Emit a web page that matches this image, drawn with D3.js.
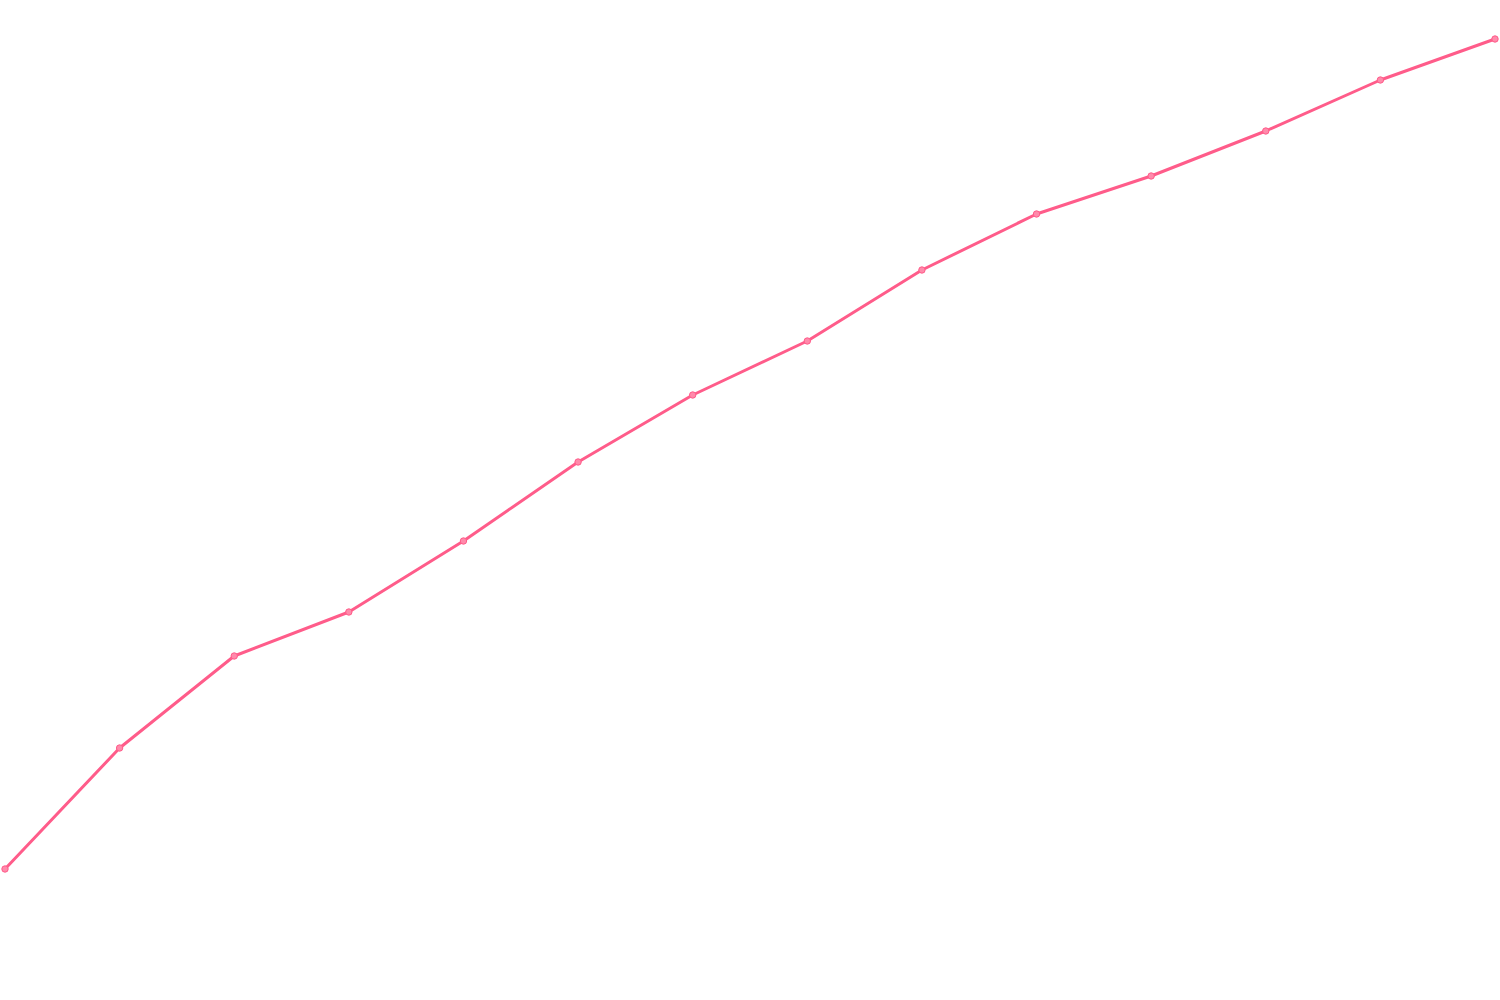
<!DOCTYPE html>
<html>
<head>
<meta charset="utf-8">
<script src="https://cdn.jsdelivr.net/npm/d3@7"></script>
<style>
html,body{margin:0;padding:0;background:#fff;}
svg{display:block;}
</style>
</head>
<body>
<svg id="chart" width="1500" height="1000"></svg>
<script>
const categories = ["1","2","3","4","5","6","7","8","9","10","11","12","13","14"];
const values = [13.1, 25.2, 34.4, 38.8, 45.9, 53.8, 60.5, 65.9, 73.0, 78.6, 82.4, 86.9, 92.0, 96.1];

const svg = d3.select("#chart");
const x = d3.scalePoint().domain(categories).range([5, 1495]);
const y = d3.scaleLinear().domain([0, 100]).range([1000, 0]);

const data = categories.map((c, i) => ({c, v: values[i]}));

svg.append("path")
  .datum(data)
  .attr("fill", "none")
  .attr("stroke", "#ff5c8a")
  .attr("stroke-width", 3)
  .attr("stroke-linejoin", "round")
  .attr("d", d3.line().x(d => x(d.c)).y(d => y(d.v)));

svg.selectAll("circle")
  .data(data)
  .join("circle")
  .attr("cx", d => x(d.c))
  .attr("cy", d => y(d.v))
  .attr("r", 3.2)
  .attr("fill", "#ff8aab")
  .attr("stroke", "#ff5c8a")
  .attr("stroke-width", 1);
</script>
</body>
</html>
